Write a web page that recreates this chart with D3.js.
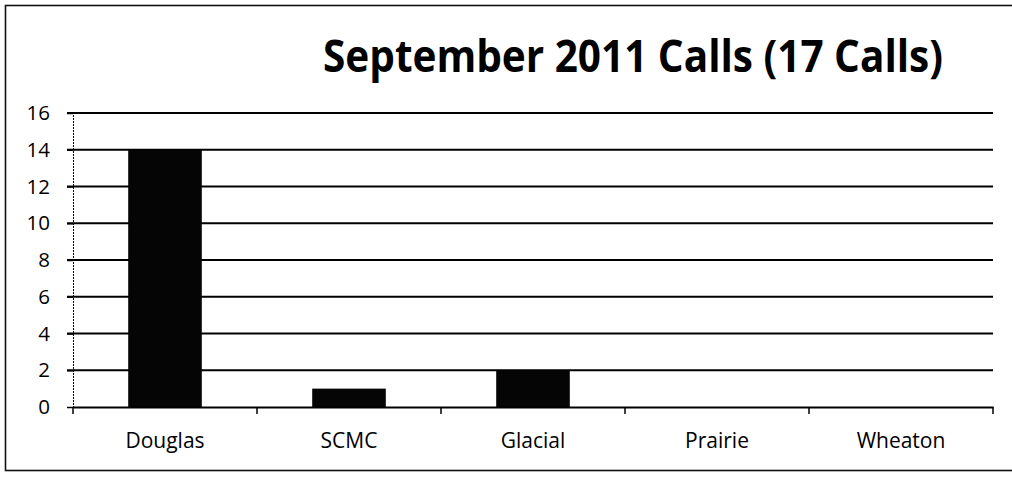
<!DOCTYPE html>
<html>
<head>
<meta charset="utf-8">
<script src="https://cdn.jsdelivr.net/npm/d3@7"></script>
<style>
html,body{margin:0;padding:0;background:#fff;}
svg{display:block;}
</style>
</head>
<body>
<svg id="chart" width="1012" height="478"></svg>
<script>
const titleText = "September 2011 Calls (17 Calls)";
const categories = ["Douglas", "SCMC", "Glacial", "Prairie", "Wheaton"];
const calls = [14, 1, 2, 0, 0];
const yTicks = [0, 2, 4, 6, 8, 10, 12, 14, 16];

const svg = d3.select("#chart");
const plot = {left: 73, right: 993, top: 113, bottom: 407};

// outer chart border
svg.append("rect")
  .attr("x", 5.5).attr("y", 5.5)
  .attr("width", 1020).attr("height", 465)
  .attr("fill", "none").attr("stroke", "#111").attr("stroke-width", 1.6);

const x = d3.scaleBand().domain(categories).range([plot.left, plot.right]).paddingInner(0).paddingOuter(0);
const y = d3.scaleLinear().domain([0, 16]).range([plot.bottom, plot.top]);

// gridlines
svg.append("g").selectAll("line").data(yTicks.filter(d => d > 0)).join("line")
  .attr("x1", plot.left - 6).attr("x2", plot.right)
  .attr("y1", d => y(d)).attr("y2", d => y(d))
  .attr("stroke", "#000").attr("stroke-width", 2);

// bars
const bw = x.bandwidth() / 2.5;
svg.append("g").selectAll("rect").data(categories).join("rect")
  .attr("x", (c) => x(c) + (x.bandwidth() - bw) / 2)
  .attr("width", bw)
  .attr("y", (c, i) => y(calls[i]))
  .attr("height", (c, i) => y(0) - y(calls[i]))
  .attr("fill", "#050505");

// y axis
const yAxis = d3.axisLeft(y).tickValues(yTicks).tickSize(6).tickPadding(17);
const gy = svg.append("g").attr("transform", `translate(${plot.left},0)`).call(yAxis);
gy.attr("font-size", null).attr("font-family", null);
gy.select(".domain").attr("stroke", "#000").attr("stroke-width", 1).attr("stroke-dasharray", "2,1");
gy.selectAll(".tick line").attr("stroke", "#000").attr("stroke-width", 1.5);
gy.selectAll(".tick text")
  .style("font-family", "'Open Sans', sans-serif").style("font-size", "20.5px").attr("fill", "#000");

// x axis
const xAxis = d3.axisBottom(x).tickSize(0).tickPadding(26);
const gx = svg.append("g").attr("transform", `translate(0,${plot.bottom})`).call(xAxis);
gx.attr("font-size", null).attr("font-family", null);
gx.select(".domain").attr("stroke", "#000").attr("stroke-width", 2);
gx.selectAll(".tick text")
  .style("font-family", "'Open Sans', sans-serif").style("font-size", "21px").attr("fill", "#000");

// category boundary ticks
svg.append("g").selectAll("line").data(categories.concat(["__end"])).join("line")
  .attr("x1", (c, i) => i < categories.length ? x(c) : plot.right)
  .attr("x2", (c, i) => i < categories.length ? x(c) : plot.right)
  .attr("y1", plot.bottom).attr("y2", plot.bottom + 7)
  .attr("stroke", "#000").attr("stroke-width", 1.5);

// title
svg.append("text")
  .attr("x", 323).attr("y", 72)
  .style("font-family", "'Open Sans', sans-serif")
  .style("font-weight", "bold")
  .style("font-size", "44px")
  .attr("textLength", 620).attr("lengthAdjust", "spacingAndGlyphs")
  .attr("fill", "#000")
  .text(titleText);
</script>
</body>
</html>
